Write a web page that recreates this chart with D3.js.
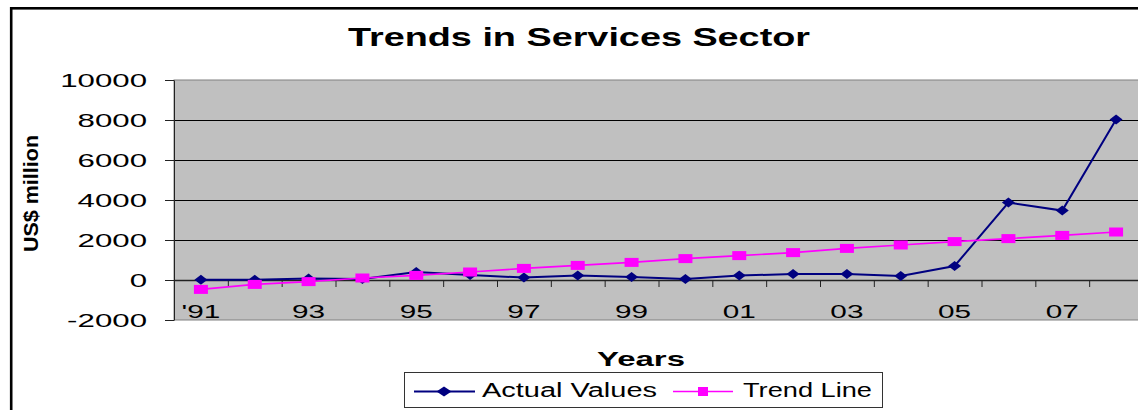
<!DOCTYPE html>
<html>
<head>
<meta charset="utf-8">
<script src="https://cdn.jsdelivr.net/npm/d3@7"></script>
<style>
  body { margin: 0; background: #fff; }
  text { font-family: "Liberation Sans", Arial, sans-serif; fill: #000; }
</style>
</head>
<body>
<svg id="chart" width="1138" height="410"></svg>
<script>
// data
var years = ["1991", "1992", "1993", "1994", "1995", "1996", "1997", "1998", "1999",
             "2000", "2001", "2002", "2003", "2004", "2005", "2006", "2007", "2008"];
var actualValues = [10, 10, 80, 50, 400, 250, 120, 220, 150, 50, 220, 300, 300, 200, 700, 3870, 3470, 8030];
var trendValues = [-470, -220, -80, 100, 230, 400, 580, 730, 880, 1070, 1220, 1370, 1580, 1750, 1920, 2070, 2230, 2400];
var xTickLabels = ["'91", "93", "95", "97", "99", "01", "03", "05", "07"];
var yTicks = [-2000, 0, 2000, 4000, 6000, 8000, 10000];

var plot = {"left": 174, "right": 1143, "top": 80, "bottom": 320};
var stretch = 1.68; // text in the picture is widened

var svg = d3.select('#chart');

// outer frame (runs off right and bottom)
svg.append('rect')
  .attr('x', 11.2).attr('y', 8.3)
  .attr('width', 1400).attr('height', 700)
  .attr('fill', '#fff')
  .attr('stroke', '#000')
  .attr('stroke-width', 2.6);

// scales
var xScale = d3.scaleLinear()
  .domain([0, years.length])
  .range([plot.left, plot.right]);
var yScale = d3.scaleLinear()
  .domain([-2000, 10000])
  .range([plot.bottom, plot.top]);

// plot area
svg.append('rect')
  .attr('x', plot.left).attr('y', plot.top)
  .attr('width', plot.right - plot.left)
  .attr('height', plot.bottom - plot.top)
  .attr('fill', '#c0c0c0')
  .attr('stroke', '#808080')
  .attr('stroke-width', 1);

// gridlines
svg.append('g').selectAll('line')
  .data(yTicks.filter(function(d){ return d > 0 && d < 10000; }))
  .enter().append('line')
  .attr('x1', plot.left).attr('x2', plot.right)
  .attr('y1', function(d){ return Math.round(yScale(d)) + 0.5; })
  .attr('y2', function(d){ return Math.round(yScale(d)) + 0.5; })
  .attr('stroke', '#000')
  .attr('stroke-width', 1);

// y axis
var yAxis = d3.axisLeft(yScale)
  .tickValues(yTicks)
  .tickSize(9)
  .tickSizeOuter(0)
  .tickFormat(function(d){ return String(d); });
var gy = svg.append('g')
  .attr('transform', 'translate(' + [plot.left, 0] + ')')
  .call(yAxis);
gy.select('.domain').attr('stroke', '#222');
gy.selectAll('.tick line').attr('stroke', '#222');
gy.selectAll('.tick text')
  .attr('font-family', '"Liberation Sans", Arial, sans-serif')
  .attr('font-size', 18.6)
  .attr('fill', '#000')
  .attr('x', -27 / stretch)
  .attr('dy', '0.36em')
  .attr('transform', 'scale(' + stretch + ',1)');

// x axis on the zero line: ticks at category boundaries
var xAxis = d3.axisBottom(xScale)
  .tickValues(d3.range(0, years.length + 1))
  .tickSize(7)
  .tickSizeOuter(0)
  .tickFormat('');
var gx = svg.append('g')
  .attr('transform', 'translate(' + [0, yScale(0)] + ')')
  .call(xAxis);
gx.select('.domain').attr('stroke', '#222').attr('stroke-width', 1.3);
gx.selectAll('.tick line').attr('stroke', '#222');

// x labels, every other year at category centres
var labelAxis = d3.axisBottom(xScale)
  .tickValues(xTickLabels.map(function(d, i){ return i * 2 + 0.5; }))
  .tickSize(0)
  .tickFormat(function(d, i){ return xTickLabels[i]; });
var gl = svg.append('g')
  .attr('transform', 'translate(' + [0, yScale(0)] + ')')
  .call(labelAxis);
gl.select('.domain').remove();
// scaling moves the anchor, so put each label back under its category
gl.selectAll('.tick').each(function(d){
  d3.select(this).attr('transform', null)
    .select('text')
    .attr('font-family', '"Liberation Sans", Arial, sans-serif')
    .attr('font-size', 18.6)
    .attr('fill', '#000')
    .attr('y', 38)
    .attr('dy', 0)
    .attr('x', xScale(d) / 1.6)
    .attr('transform', 'scale(1.6,1)');
});

// lines
var line = d3.line()
  .x(function(d, i){ return xScale(i + 0.5); })
  .y(function(d){ return yScale(d); });

function diamond(w, h) {
  return 'M0,' + (-h / 2) + 'L' + (w / 2) + ',0L0,' + (h / 2) + 'L' + (-w / 2) + ',0Z';
}

svg.append('path')
  .datum(actualValues)
  .attr('d', line)
  .attr('fill', 'none')
  .attr('stroke', '#000080')
  .attr('stroke-width', 2);
svg.append('g').selectAll('path')
  .data(actualValues)
  .enter().append('path')
  .attr('d', diamond(13, 10))
  .attr('transform', function(d, i){ return 'translate(' + [xScale(i + 0.5), yScale(d)] + ')'; })
  .attr('fill', '#000080');

svg.append('path')
  .datum(trendValues)
  .attr('d', line)
  .attr('fill', 'none')
  .attr('stroke', '#ff00ff')
  .attr('stroke-width', 1.6);
svg.append('g').selectAll('rect')
  .data(trendValues)
  .enter().append('rect')
  .attr('x', function(d, i){ return xScale(i + 0.5) - 7; })
  .attr('y', function(d){ return yScale(d) - 4.5; })
  .attr('width', 14)
  .attr('height', 9)
  .attr('fill', '#ff00ff');

// titles
svg.append('text')
  .attr('x', 579).attr('y', 46)
  .attr('text-anchor', 'middle')
  .attr('font-size', 25)
  .attr('font-weight', 'bold')
  .attr('textLength', 462)
  .attr('lengthAdjust', 'spacingAndGlyphs')
  .text('Trends in Services Sector');

svg.append('text')
  .attr('x', 641).attr('y', 366)
  .attr('text-anchor', 'middle')
  .attr('font-size', 21)
  .attr('font-weight', 'bold')
  .attr('textLength', 88)
  .attr('lengthAdjust', 'spacingAndGlyphs')
  .text('Years');

svg.append('text')
  .attr('transform', 'translate(38,193.5) rotate(-90)')
  .attr('text-anchor', 'middle')
  .attr('font-size', 20)
  .attr('font-weight', 'bold')
  .attr('textLength', 117)
  .attr('lengthAdjust', 'spacingAndGlyphs')
  .text('US$ million');

// legend
var legend = svg.append('g');
legend.append('rect')
  .attr('x', 404.5).attr('y', 372.5)
  .attr('width', 478).attr('height', 35)
  .attr('fill', '#fff')
  .attr('stroke', '#333')
  .attr('stroke-width', 1);

legend.append('line')
  .attr('x1', 414).attr('x2', 475)
  .attr('y1', 391.5).attr('y2', 391.5)
  .attr('stroke', '#000080').attr('stroke-width', 2);
legend.append('path')
  .attr('d', diamond(15, 10))
  .attr('transform', 'translate(444,391.5)')
  .attr('fill', '#000080');
legend.append('text')
  .attr('x', 482).attr('y', 397)
  .attr('font-size', 19.5)
  .attr('textLength', 175)
  .attr('lengthAdjust', 'spacingAndGlyphs')
  .text('Actual Values');

legend.append('line')
  .attr('x1', 673).attr('x2', 733)
  .attr('y1', 391.5).attr('y2', 391.5)
  .attr('stroke', '#ff00ff').attr('stroke-width', 1.6);
legend.append('rect')
  .attr('x', 698).attr('y', 387)
  .attr('width', 10).attr('height', 9)
  .attr('fill', '#ff00ff');
legend.append('text')
  .attr('x', 743).attr('y', 397)
  .attr('font-size', 19.5)
  .attr('textLength', 129)
  .attr('lengthAdjust', 'spacingAndGlyphs')
  .text('Trend Line');
</script>
</body>
</html>
